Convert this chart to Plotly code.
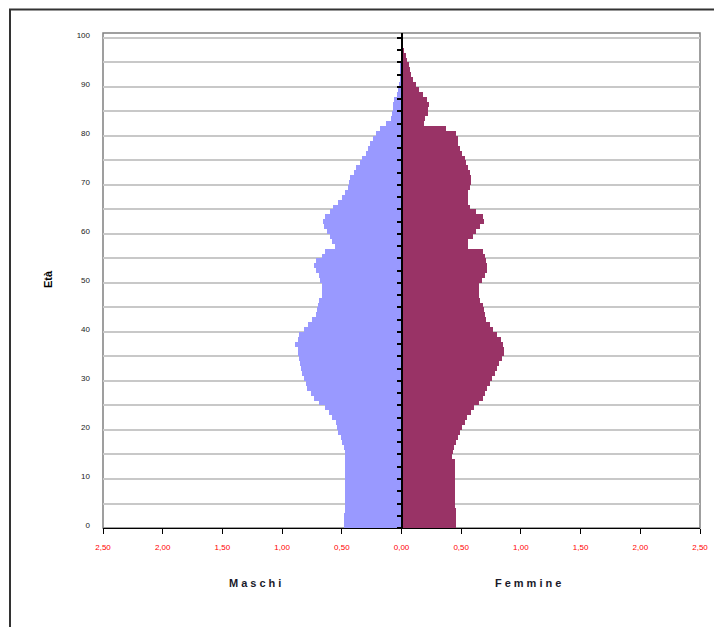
import plotly.graph_objects as go

# ---- data (percent of population by single year of age) ----
ages = list(range(0, 101))

maschi = [
    0.48, 0.48, 0.48, 0.475, 0.47, 0.47, 0.47, 0.47, 0.47, 0.47,   # 0-9
    0.47, 0.47, 0.47, 0.47, 0.47, 0.47, 0.48, 0.50, 0.51, 0.53,    # 10-19
    0.54, 0.55, 0.58, 0.61, 0.64, 0.69, 0.73, 0.76, 0.79, 0.80,    # 20-29
    0.82, 0.83, 0.84, 0.85, 0.86, 0.87, 0.87, 0.89, 0.87, 0.86,    # 30-39
    0.82, 0.78, 0.75, 0.72, 0.71, 0.70, 0.69, 0.67, 0.67, 0.67,    # 40-49
    0.68, 0.69, 0.72, 0.73, 0.72, 0.67, 0.64, 0.56, 0.58, 0.60,    # 50-59
    0.62, 0.65, 0.66, 0.64, 0.60, 0.57, 0.53, 0.50, 0.47, 0.45,    # 60-69
    0.44, 0.43, 0.40, 0.38, 0.35, 0.33, 0.30, 0.28, 0.26, 0.24,    # 70-79
    0.21, 0.18, 0.13, 0.09, 0.08, 0.075, 0.07, 0.06, 0.04, 0.03,   # 80-89
    0.02, 0.015, 0.01, 0.008, 0.006, 0.004, 0.003, 0.002, 0.001, 0.001,  # 90-99
    0.001,                                                          # 100
]

femmine = [
    0.46, 0.46, 0.46, 0.455, 0.45, 0.45, 0.45, 0.45, 0.45, 0.45,   # 0-9
    0.45, 0.45, 0.45, 0.45, 0.42, 0.43, 0.44, 0.46, 0.47, 0.49,    # 10-19
    0.51, 0.53, 0.55, 0.58, 0.61, 0.65, 0.68, 0.70, 0.72, 0.74,    # 20-29
    0.76, 0.78, 0.80, 0.82, 0.84, 0.86, 0.86, 0.85, 0.83, 0.80,    # 30-39
    0.77, 0.74, 0.71, 0.70, 0.69, 0.68, 0.66, 0.65, 0.65, 0.65,    # 40-49
    0.67, 0.70, 0.72, 0.72, 0.71, 0.70, 0.68, 0.56, 0.56, 0.60,    # 50-59
    0.62, 0.66, 0.69, 0.68, 0.62, 0.57, 0.56, 0.56, 0.56, 0.57,    # 60-69
    0.58, 0.58, 0.57, 0.56, 0.54, 0.53, 0.51, 0.49, 0.47, 0.47,    # 70-79
    0.46, 0.37, 0.19, 0.20, 0.22, 0.22, 0.23, 0.21, 0.18, 0.15,    # 80-89
    0.12, 0.10, 0.08, 0.07, 0.06, 0.045, 0.035, 0.025, 0.015, 0.01,  # 90-99
    0.005,                                                          # 100
]

x_ticks = [-2.5, -2.0, -1.5, -1.0, -0.5, 0.0, 0.5, 1.0, 1.5, 2.0, 2.5]
x_labels = ["2,50", "2,00", "1,50", "1,00", "0,50", "0,00",
            "0,50", "1,00", "1,50", "2,00", "2,50"]
y_label_ages = [0, 10, 20, 30, 40, 50, 60, 70, 80, 90, 100]
grid_ages = list(range(0, 101, 5))
center_ticks = [i * 2.5 for i in range(41)]

# ---- figure ----
y_pos = [a + 0.5 for a in ages]

fig = go.Figure()
fig.add_trace(go.Bar(
    y=y_pos, x=[-v for v in maschi], orientation="h", width=1.0,
    marker=dict(color="#9999FF", line=dict(width=0)),
    name="Maschi", customdata=maschi,
    hovertemplate="Età %{y:.0f}: %{customdata:.2f}<extra>Maschi</extra>",
))
fig.add_trace(go.Bar(
    y=y_pos, x=femmine, orientation="h", width=1.0,
    marker=dict(color="#993366", line=dict(width=0)),
    name="Femmine",
    hovertemplate="Età %{y:.0f}: %{x:.2f}<extra>Femmine</extra>",
))
# empty trace so the central axis is drawn
fig.add_trace(go.Scatter(x=[], y=[], yaxis="y2", showlegend=False, hoverinfo="skip"))

# page body adds an 8px offset, so positions are shifted by that amount
OFF = 8
W, H = 722, 627
L, T = 103 - OFF, 33 - OFF
pw, ph = 597, 495
R = W - L - pw
B = H - T - ph

def px_x(px):
    return (px - OFF - L) / pw

def px_y(py):
    return (T + ph - (py - OFF)) / ph

fig.update_layout(
    width=W, height=H,
    margin=dict(l=L, r=R, t=T, b=B, pad=0),
    paper_bgcolor="white", plot_bgcolor="white",
    barmode="overlay", bargap=0,
    showlegend=False,
    font=dict(family="Liberation Sans, Arial, sans-serif", size=8, color="#222222"),
    xaxis=dict(
        range=[-2.5, 2.5], domain=[0, 1],
        tickvals=x_ticks, ticktext=x_labels,
        tickfont=dict(color="#FF0000", size=8),
        showgrid=False, zeroline=False,
        showline=True, linecolor="#000000", linewidth=1,
        ticks="outside", ticklen=5, tickcolor="#000000", tickwidth=1,
        ticklabelstandoff=6,
        fixedrange=True,
    ),
    yaxis=dict(
        range=[0, 101],
        tickvals=[a + 0.5 for a in y_label_ages],
        ticktext=[str(a) for a in y_label_ages],
        tickfont=dict(size=8, color="#222222"),
        showgrid=False, zeroline=False, showline=False,
        ticks="", ticklabelstandoff=12,
        minor=dict(tickvals=grid_ages, showgrid=True,
                   gridcolor="#C8C8C8", gridwidth=1.5, ticks=""),
        fixedrange=True,
    ),
    yaxis2=dict(
        range=[0, 101], overlaying="y", anchor="free", position=0.5,
        side="left", showgrid=False, zeroline=False,
        showline=True, linecolor="#000000", linewidth=1.5,
        tickvals=center_ticks, showticklabels=False,
        ticks="outside", ticklen=4, tickcolor="#000000", tickwidth=1.5,
        fixedrange=True,
    ),
    shapes=[
        # plot area border
        dict(type="rect", xref="paper", yref="paper", x0=0, x1=1, y0=0, y1=1,
             line=dict(color="#808080", width=1.5), layer="below"),
        # chart area border
        dict(type="rect", xref="paper", yref="paper",
             x0=px_x(10), x1=px_x(760), y0=px_y(680), y1=px_y(9.5),
             line=dict(color="#333333", width=2), layer="below"),
    ],
    annotations=[
        dict(text='<b><span style="letter-spacing:3px">Maschi</span></b>',
             xref="paper", yref="paper", xanchor="center", yanchor="middle",
             x=px_x(256), y=px_y(583), showarrow=False,
             font=dict(size=11, color="#1a1a2a")),
        dict(text='<b><span style="letter-spacing:3px">Femmine</span></b>',
             xref="paper", yref="paper", xanchor="center", yanchor="middle",
             x=px_x(529), y=px_y(583), showarrow=False,
             font=dict(size=11, color="#1a1a2a")),
        dict(text="<b>Età</b>", xref="paper", yref="paper",
             xanchor="center", yanchor="middle",
             x=px_x(48), y=px_y(279), showarrow=False, textangle=-90,
             font=dict(size=11, color="#000000")),
    ],
)

fig.write_html("out.html")
